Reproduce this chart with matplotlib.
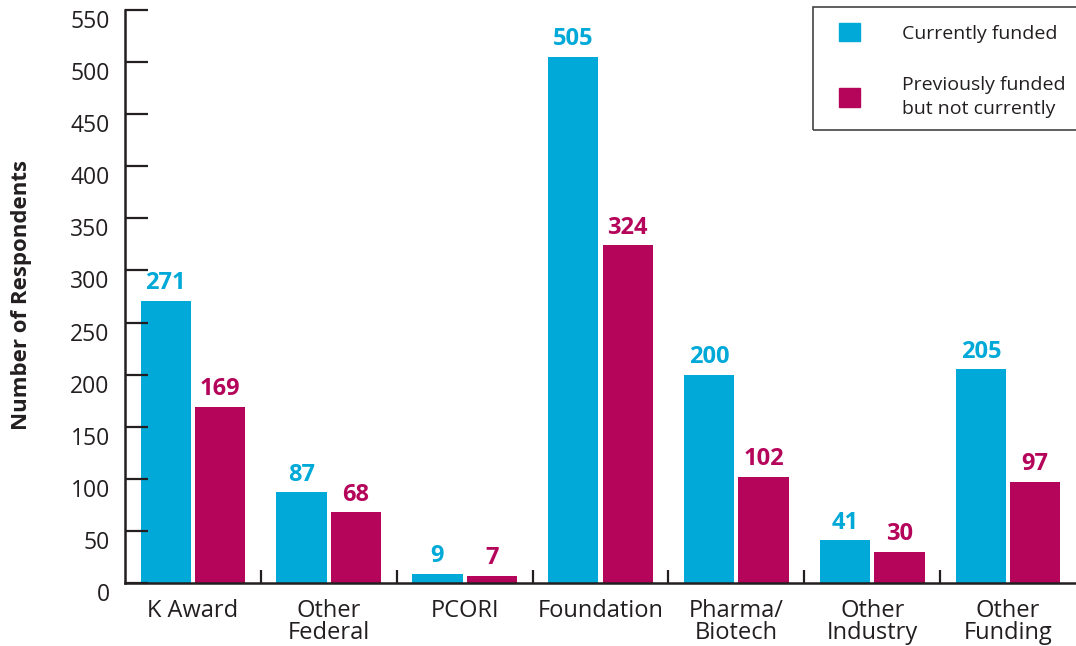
import matplotlib
matplotlib.use('Agg')
import matplotlib.pyplot as plt
import matplotlib.transforms as mtransforms
from matplotlib.patches import Patch, Rectangle
import numpy as np

# 字体
plt.rcParams['font.family'] = ['Open Sans', 'DejaVu Sans']

categories = ['K Award', 'Other\nFederal', 'PCORI', 'Foundation', 'Pharma/\nBiotech', 'Other\nIndustry', 'Other\nFunding']
current = [271, 87, 9, 505, 200, 41, 205]
previous = [169, 68, 7, 324, 102, 30, 97]
series_names = ['Currently funded', 'Previously funded\nbut not currently']
yticks = list(range(0, 551, 50))

blue = '#00A9D7'
red = '#B5055A'
ink = '#231F20'

W, H = 1076, 646
fig = plt.figure(figsize=(W / 100, H / 100), dpi=100)
ax = fig.add_axes([125 / W, 63 / H, 1 - 125 / W, 573 / H])

x = np.arange(len(categories))
w = 0.37
off = 0.2
b1 = ax.bar(x - off, current, width=w, color=blue)
b2 = ax.bar(x + off, previous, width=w, color=red)

for rects, vals, c in [(b1, current, blue), (b2, previous, red)]:
    for r, v in zip(rects, vals):
        ax.annotate(str(v), (r.get_x() + r.get_width() / 2, r.get_height()),
                    xytext=(0, 4), textcoords='offset points',
                    ha='center', va='bottom', color=c, fontsize=17, fontweight='bold')

ax.set_xlim(-0.5, len(categories) - 0.5)
ax.set_ylim(0, 550)
ax.set_yticks(yticks)
ax.set_xticks(x)
ax.set_xticklabels(categories, fontsize=17, color=ink, linespacing=0.88)
ax.set_xticks(x[:-1] + 0.5, minor=True)
ax.tick_params(axis='x', which='major', length=0, pad=11.5)
ax.tick_params(axis='x', which='minor', direction='in', length=9.5, width=1.6, color=ink)
ax.tick_params(axis='y', direction='in', length=16.5, width=1.6, color=ink,
               labelsize=16.5, labelcolor=ink, pad=11)

# y tick labels sit a bit below their ticks
shift = mtransforms.ScaledTranslation(0, -9 / 100, fig.dpi_scale_trans)
for lab in ax.get_yticklabels():
    lab.set_transform(lab.get_transform() + shift)

for s in ['top', 'right']:
    ax.spines[s].set_visible(False)
for s in ['left', 'bottom']:
    ax.spines[s].set_linewidth(1.8)
    ax.spines[s].set_color(ink)

fig.text(22 / W, 1 - 295 / H, 'Number of Respondents', rotation=90,
         ha='center', va='center', fontsize=16, fontweight='bold', color=ink)

# legend box drawn separately, legend itself without frame
fig.add_artist(Rectangle((813 / W, 1 - 130 / H), (1080 - 813) / W, 123 / H,
                         transform=fig.transFigure, fill=False,
                         edgecolor='#444444', linewidth=1.2))
handles = [Patch(color=blue), Patch(color=red)]
leg = fig.legend(handles, series_names, loc='upper left',
                 bbox_to_anchor=(839 / W, 1 - 23 / H),
                 fontsize=14, frameon=False,
                 handlelength=1.08, handleheight=1.08, handletextpad=2.16,
                 labelspacing=1.7, borderpad=0, borderaxespad=0)
for t in leg.get_texts():
    t.set_color(ink)
    t.set_linespacing(1.45)

fig.savefig('out.png', dpi=100)
